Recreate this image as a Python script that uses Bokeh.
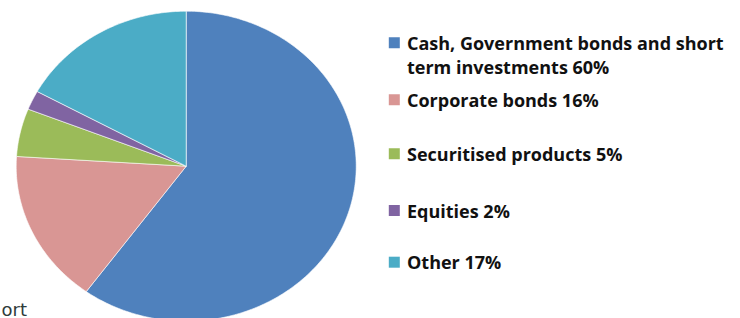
import numpy as np
from bokeh.plotting import figure
from bokeh.models import Range1d
from bokeh.core.properties import value
from bokeh.embed import file_html
from bokeh.resources import INLINE

# ---- data ----
categories = ["Cash, Government bonds and short term investments",
              "Corporate bonds", "Securitised products", "Equities", "Other"]
shares = [60, 16, 5, 2, 17]
legend_line1 = ["Cash, Government bonds and short", "Corporate bonds 16%",
                "Securitised products 5%", "Equities 2%", "Other 17%"]
legend_line2 = ["term investments 60%", "", "", "", ""]
colors = ["#4F81BD", "#D99694", "#9BBB59", "#8064A2", "#4BACC6"]

W, H = 740, 318
p = figure(width=W, height=H, output_backend="svg", toolbar_location=None,
           x_range=Range1d(0, W), y_range=Range1d(0, H), min_border=0)
p.axis.visible = False
p.grid.visible = False
p.outline_line_color = None
p.background_fill_color = "white"
p.border_fill_color = "white"

# pie (slightly elliptical, as in the reference)
cx, cy, rx, ry = 185.7, 152.3, 170, 155
total = float(sum(shares))
start = np.pi / 2
xs, ys = [], []
for s in shares:
    ang = s / total * 2 * np.pi
    t = np.linspace(start, start - ang, max(int(s * 4), 8))
    xs.append([cx] + list(cx + rx * np.cos(t)) + [cx])
    ys.append([cy] + list(cy + ry * np.sin(t)) + [cy])
    start -= ang
p.patches(xs=xs, ys=ys, fill_color=colors, line_color="white", line_width=0.6)

# legend drawn manually
row_y = [275.7, 218.8, 164.7, 108.0, 56.3]
p.scatter(x=[393.8] * 5, y=row_y, marker="square", size=11, fill_color=colors,
          line_color=None)
p.text(x=[406.5] * 5, y=row_y, text=legend_line1, text_font=value("Open Sans"),
       text_font_style="bold", text_font_size="18px", text_baseline="middle",
       text_color="#111111")
p.text(x=[406.5], y=[row_y[0] - 24.5], text=[legend_line2[0]],
       text_font=value("Open Sans"), text_font_style="bold",
       text_font_size="18px", text_baseline="middle", text_color="#111111")

p.text(x=[1], y=[9], text=["ort"], text_font=value("DejaVu Sans"),
       text_font_size="18px", text_color="#2F3B3B", text_baseline="alphabetic")

open("out.html", "w").write(file_html(p, INLINE))
